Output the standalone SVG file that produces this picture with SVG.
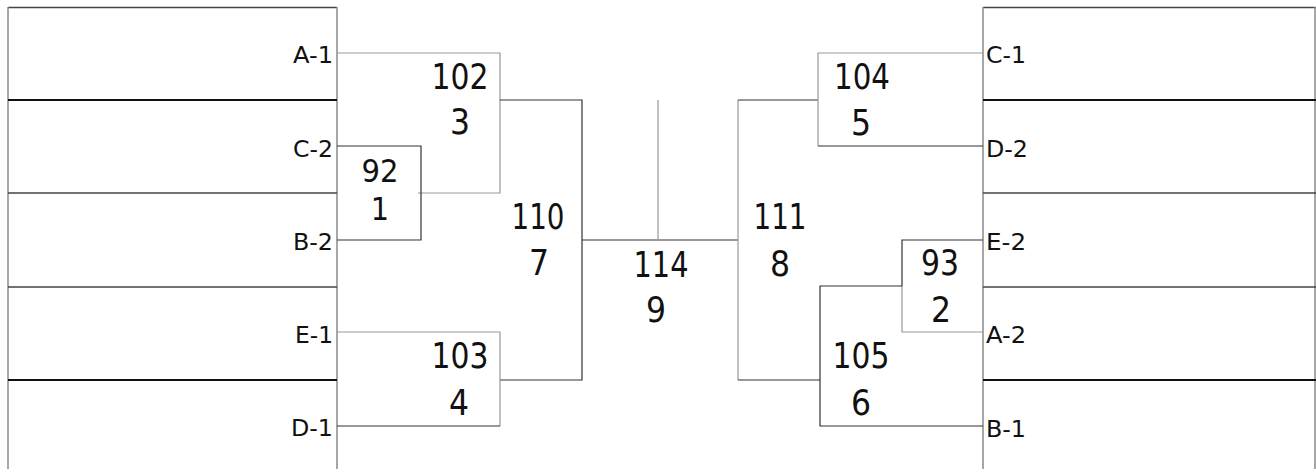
<svg xmlns="http://www.w3.org/2000/svg" width="1316" height="469" viewBox="0 0 1316 469">
<style>
.bg{fill:#fff}
.edge{stroke:#8a8a8a;stroke-width:1.5;fill:none}
.top{stroke:#444;stroke-width:1.5;fill:none}
.div1{stroke:#111;stroke-width:2.2;fill:none}
.div2{stroke:#444;stroke-width:1.6;fill:none}
.lt{stroke:#999;stroke-width:1.2;fill:none}
.dk{stroke:#333;stroke-width:1.2;fill:none}
.lab{font-family:"DejaVu Sans Condensed","DejaVu Sans",sans-serif;font-size:23.5px;fill:#111}
.num{font-family:"DejaVu Sans Condensed","DejaVu Sans",sans-serif;font-size:35px;fill:#111;text-anchor:middle}
.sm{font-size:32px}
.r{text-anchor:end}
</style>
<rect class="bg" x="0" y="0" width="1316" height="469"/>
<g id="left-box">
<path class="top" d="M8 7.5H337"/>
<path class="edge" d="M8 7V469M337 7V469"/>
<path class="div1" d="M8 100H337M8 380H337"/>
<path class="div2" d="M8 193H337M8 287H337"/>
</g>
<g id="right-box">
<path class="top" d="M983 7.5H1316"/>
<path class="edge" d="M983 7V469M1315 7V469"/>
<path class="div1" d="M983 100H1316M983 380H1316"/>
<path class="div2" d="M983 193H1316M983 287H1316"/>
</g>
<g id="connectors">
<path class="lt" d="M337 53H500V193H418"/>
<path class="dk" d="M337 146H421V240H337"/>
<path class="dk" d="M500 100H582V380H500"/>
<path class="lt" d="M337 332H500V426"/>
<path class="dk" d="M337 426H500"/>
<path class="dk" d="M582 240H738"/>
<path class="lt" d="M658 100V240"/>
<path class="lt" d="M738 100V380"/>
<path class="dk" d="M738 100H818M738 380H820"/>
<path class="lt" d="M983 53H818V146"/>
<path class="dk" d="M818 146H983"/>
<path class="dk" d="M983 240H902V286"/>
<path class="lt" d="M902 286V332H983"/>
<path class="dk" d="M902 286H820V426H983"/>
</g>
<g id="team-labels">
<text class="lab r" x="333" y="63" textLength="40" lengthAdjust="spacingAndGlyphs">A-1</text>
<text class="lab r" x="333" y="157" textLength="40" lengthAdjust="spacingAndGlyphs">C-2</text>
<text class="lab r" x="333" y="250" textLength="40" lengthAdjust="spacingAndGlyphs">B-2</text>
<text class="lab r" x="333" y="343" textLength="38" lengthAdjust="spacingAndGlyphs">E-1</text>
<text class="lab r" x="333" y="436" textLength="42" lengthAdjust="spacingAndGlyphs">D-1</text>
<text class="lab" x="986" y="63" textLength="40" lengthAdjust="spacingAndGlyphs">C-1</text>
<text class="lab" x="986" y="157" textLength="42" lengthAdjust="spacingAndGlyphs">D-2</text>
<text class="lab" x="986" y="250" textLength="40" lengthAdjust="spacingAndGlyphs">E-2</text>
<text class="lab" x="986" y="343" textLength="40" lengthAdjust="spacingAndGlyphs">A-2</text>
<text class="lab" x="986" y="437" textLength="40" lengthAdjust="spacingAndGlyphs">B-1</text>
</g>
<g id="m92"><text class="num sm"><tspan x="380" y="182" textLength="37" lengthAdjust="spacingAndGlyphs">92</tspan><tspan x="380" y="220">1</tspan></text></g>
<g id="m102"><text class="num"><tspan x="460" y="89" textLength="57" lengthAdjust="spacingAndGlyphs">102</tspan><tspan x="460" y="134">3</tspan></text></g>
<g id="m103"><text class="num"><tspan x="460" y="368" textLength="57" lengthAdjust="spacingAndGlyphs">103</tspan><tspan x="459" y="415">4</tspan></text></g>
<g id="m110"><text class="num"><tspan x="538" y="229" textLength="53" lengthAdjust="spacingAndGlyphs">110</tspan><tspan x="539" y="275">7</tspan></text></g>
<g id="m114"><text class="num"><tspan x="661" y="277" textLength="55" lengthAdjust="spacingAndGlyphs">114</tspan><tspan x="656" y="322">9</tspan></text></g>
<g id="m111"><text class="num"><tspan x="780" y="229" textLength="53" lengthAdjust="spacingAndGlyphs">111</tspan><tspan x="780" y="276">8</tspan></text></g>
<g id="m104"><text class="num"><tspan x="862" y="89" textLength="56" lengthAdjust="spacingAndGlyphs">104</tspan><tspan x="861" y="135">5</tspan></text></g>
<g id="m93"><text class="num"><tspan x="940" y="275" textLength="38" lengthAdjust="spacingAndGlyphs">93</tspan><tspan x="941" y="322">2</tspan></text></g>
<g id="m105"><text class="num"><tspan x="861" y="368" textLength="57" lengthAdjust="spacingAndGlyphs">105</tspan><tspan x="861" y="415">6</tspan></text></g>
</svg>
